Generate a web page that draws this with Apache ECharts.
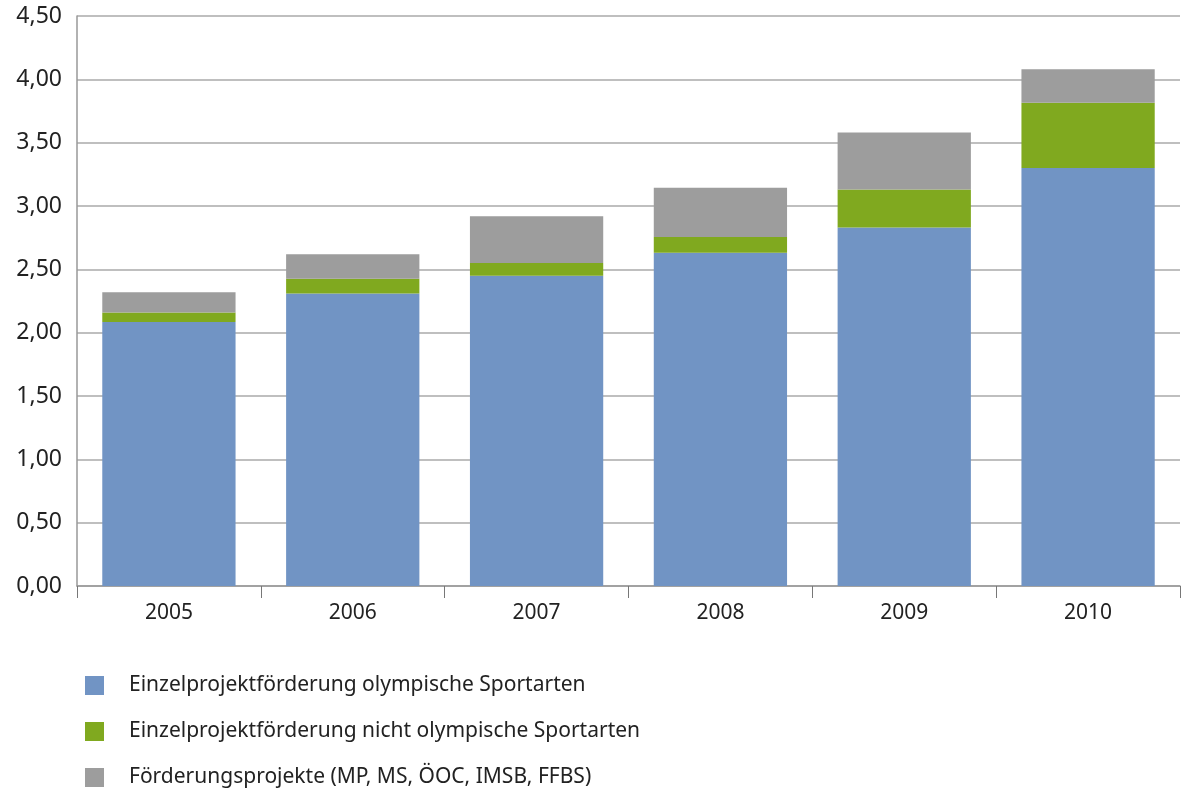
<!DOCTYPE html>
<html>
<head>
<meta charset="utf-8">
<script src="https://cdn.jsdelivr.net/npm/echarts@6/dist/echarts.min.js"></script>
<style>
  html, body { margin: 0; padding: 0; background: #fff; }
  #chart { width: 1184px; height: 791px; }
</style>
</head>
<body>
<div id="chart"></div>
<script>
const years = ["2005", "2006", "2007", "2008", "2009", "2010"];
const olympisch = [2.085, 2.31, 2.45, 2.63, 2.83, 3.30];
const nichtOlympisch = [0.075, 0.115, 0.10, 0.125, 0.30, 0.515];
const foerderProjekte = [0.16, 0.195, 0.37, 0.39, 0.45, 0.265];

const font = "'Noto Sans', 'DejaVu Sans', sans-serif";

const chart = echarts.init(document.getElementById("chart"));

chart.setOption({
  animation: false,
  textStyle: { fontFamily: font },
  grid: {
    left: 77,
    right: 4,
    top: 16,
    bottom: 205
  },
  legend: {
    orient: "vertical",
    left: 80,
    top: 670,
    height: 130,
    itemWidth: 19,
    itemHeight: 19,
    itemGap: 25,
    icon: "rect",
    textStyle: { fontSize: 21, color: "#222", padding: [0, 0, 0, 20] },
    data: [
      "Einzelprojektförderung olympische Sportarten",
      "Einzelprojektförderung nicht olympische Sportarten",
      "Förderungsprojekte (MP, MS, ÖOC, IMSB, FFBS)"
    ]
  },
  xAxis: {
    type: "category",
    data: years,
    axisLine: { lineStyle: { color: "#999", width: 1.5 } },
    axisTick: { show: true, length: 12, lineStyle: { color: "#777" } },
    axisLabel: { fontSize: 21, color: "#222", margin: 17 }
  },
  yAxis: {
    type: "value",
    min: 0,
    max: 4.5,
    interval: 0.5,
    axisLine: { show: true, lineStyle: { color: "#999", width: 1.5 } },
    axisTick: { show: false },
    splitLine: { lineStyle: { color: "#aaa", width: 1.5 } },
    axisLabel: {
      fontSize: 23,
      color: "#222",
      margin: 15,
      formatter: v => v.toFixed(2).replace(".", ",")
    }
  },
  series: [
    {
      name: "Einzelprojektförderung olympische Sportarten",
      type: "bar",
      stack: "total",
      barWidth: "72.5%",
      itemStyle: { color: "#7194c4" },
      data: olympisch
    },
    {
      name: "Einzelprojektförderung nicht olympische Sportarten",
      type: "bar",
      stack: "total",
      itemStyle: { color: "#80a91f" },
      data: nichtOlympisch
    },
    {
      name: "Förderungsprojekte (MP, MS, ÖOC, IMSB, FFBS)",
      type: "bar",
      stack: "total",
      itemStyle: { color: "#9d9d9d" },
      data: foerderProjekte
    }
  ]
});
</script>
</body>
</html>
